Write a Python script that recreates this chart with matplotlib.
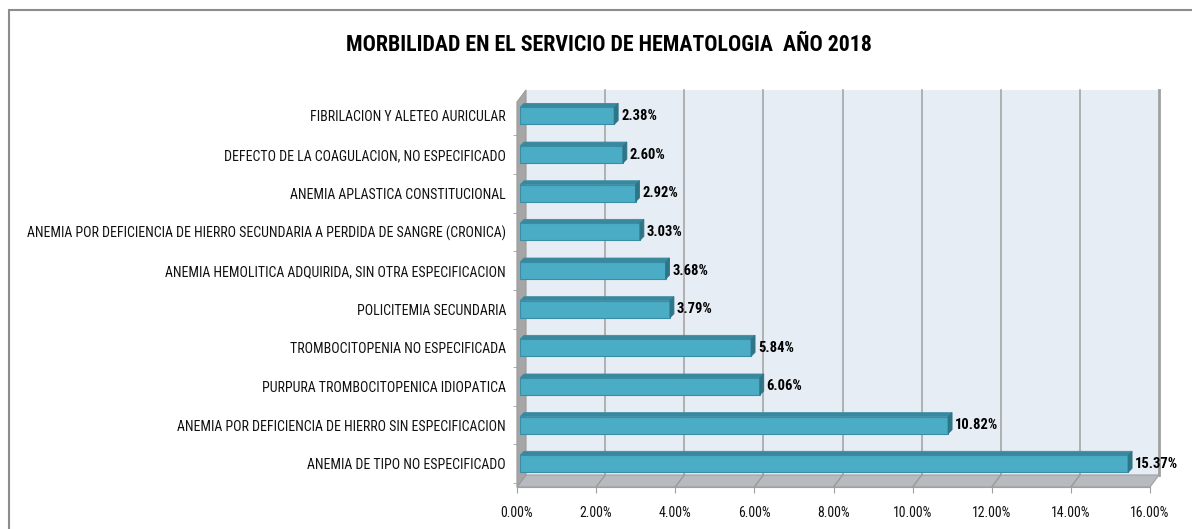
import matplotlib
matplotlib.use("Agg")
import matplotlib.pyplot as plt
from matplotlib import font_manager as fm
from matplotlib.patches import Rectangle, Polygon
from matplotlib.transforms import ScaledTranslation, IdentityTransform
import numpy as np

# ---- data (top to bottom as shown) ----
categories = [
    "FIBRILACION Y ALETEO AURICULAR",
    "DEFECTO DE LA COAGULACION, NO ESPECIFICADO",
    "ANEMIA APLASTICA CONSTITUCIONAL",
    "ANEMIA POR DEFICIENCIA DE HIERRO SECUNDARIA A PERDIDA DE SANGRE (CRONICA)",
    "ANEMIA HEMOLITICA ADQUIRIDA, SIN OTRA ESPECIFICACION",
    "POLICITEMIA SECUNDARIA",
    "TROMBOCITOPENIA NO ESPECIFICADA",
    "PURPURA TROMBOCITOPENICA IDIOPATICA",
    "ANEMIA POR DEFICIENCIA DE HIERRO SIN ESPECIFICACION",
    "ANEMIA DE TIPO NO ESPECIFICADO",
]
values = [2.38, 2.60, 2.92, 3.03, 3.68, 3.79, 5.84, 6.06, 10.82, 15.37]
xticks = [0, 2, 4, 6, 8, 10, 12, 14, 16]
xticklabels = ["%.2f%%" % t for t in xticks]
title = "MORBILIDAD EN EL SERVICIO DE HEMATOLOGIA  AÑO 2018"

# ---- pick a narrow font if one is installed ----
entries = fm.fontManager.ttflist
names = {f.name for f in entries}
family, stretch = "DejaVu Sans", "normal"
for cand in ("Liberation Sans Narrow", "Roboto Condensed", "Open Sans Condensed",
             "Arial Narrow", "Noto Sans Condensed"):
    if cand in names:
        family = cand
        break
else:
    if any(f.name == "DejaVu Sans" and ("Condensed" in f.fname) for f in entries):
        stretch = "condensed"
plt.rcParams["font.family"] = [family, "DejaVu Sans"]
plt.rcParams["font.stretch"] = stretch

W, H = 1192, 529
DPI = 100
fig = plt.figure(figsize=(W / DPI, H / DPI), dpi=DPI)
fig.patch.set_facecolor("white")
renderer = fig.canvas.get_renderer()


def fit(text, target_px, base, weight="normal"):
    t = fig.text(0, 0, text, fontsize=base, fontweight=weight)
    w = t.get_window_extent(renderer).width
    t.remove()
    return base * target_px / w


fs_lab = fit(max(categories, key=len), 479, 9)
fs_title = fit(title, 528, 15, "bold")
fs_val = fit("15.37%", 43, 9, "bold")
fs_x = fit("16.00%", 40, 9)

# outer chart border (extends past right/bottom edges)
fig.add_artist(Rectangle((9 / W, -0.1), 1.2, (H - 10) / H + 0.1,
                         transform=fig.transFigure, fill=False,
                         ec="#8C8C8C", lw=1.5))

# axes = front plane
L, R, T, B = 517, 1150, 102, 487
ax = fig.add_axes([L / W, (H - B) / H, (R - L) / W, (B - T) / H])
ax.set_facecolor("none")

n = len(categories)
ypos = np.arange(n)[::-1]  # first category at top

ax.set_yticks(ypos)
ax.set_yticklabels(categories, fontsize=fs_lab, color="#111111")
ax.tick_params(axis="y", length=0, pad=8)
ax.set_yticks(np.arange(-0.5, n, 1.0), minor=True)
ax.tick_params(axis="y", which="minor", length=3, color="#A0A0A0")
ax.set_xticks(xticks)
ax.set_xticklabels(xticklabels, fontsize=fs_x, color="#111111")
ax.tick_params(axis="x", length=4, color="#A0A0A0", pad=10)

y0, y1 = -0.6, 9.36
ax.set_xlim(0, 16)
ax.set_ylim(y0, y1)
ax.set_autoscale_on(False)

depth = ScaledTranslation(0.09, 0.12, fig.dpi_scale_trans)
back = ax.transData + depth
ident = IdentityTransform()

# back wall
ax.add_patch(Rectangle((0, y0), 16, y1 - y0, transform=back,
                       fc="#E7EDF5", ec="none", zorder=0, clip_on=False))
ax.plot([16, 16], [y0, y1], transform=back, color="#A0A0A0", lw=2,
        zorder=1, clip_on=False)


def disp(tr, x, y):
    return np.asarray(tr.transform((x, y)))


# floor
floor = [disp(ax.transData, 0, y0), disp(ax.transData, 16, y0),
         disp(back, 16, y0), disp(back, 0, y0)]
ax.add_patch(Polygon(floor, closed=True, transform=ident, fc="#B7BBBF",
                     ec="#A0A0A0", lw=0.8, zorder=1, clip_on=False))
# left wall
wall = [disp(ax.transData, 0, y0), disp(ax.transData, 0, y1),
        disp(back, 0, y1), disp(back, 0, y0)]
ax.add_patch(Polygon(wall, closed=True, transform=ident, fc="#A6A6A6",
                     ec="#9A9A9A", lw=0.8, zorder=1, clip_on=False))

# gridlines (back wall + floor diagonal)
for t in xticks[1:-1]:
    ax.plot([t, t], [y0, y1], transform=back, color="#A6A6A6", lw=1.2,
            zorder=1, clip_on=False)
    p0 = disp(back, t, y0)
    p1 = disp(ax.transData, t, y0)
    ax.plot([p0[0], p1[0]], [p0[1], p1[1]], transform=ident,
            color="#999999", lw=1.0, zorder=1.5, clip_on=False)

# bars (pseudo 3D)
h = 0.44
bar_t = ax.transData + ScaledTranslation(0.03, 0.0, fig.dpi_scale_trans)
d = np.array([4.0, 4.0])
front_c, top_c, end_c, edge_c = "#4BACC6", "#3A889D", "#2F7588", "#3A8DA4"
for yi, v in zip(ypos, values):
    ax.add_patch(Rectangle((0, yi - h / 2), v, h, transform=bar_t,
                           fc=front_c, ec=edge_c, lw=0.8, zorder=3,
                           clip_on=False))
    tl = disp(bar_t, 0, yi + h / 2)
    tr = disp(bar_t, v, yi + h / 2)
    br = disp(bar_t, v, yi - h / 2)
    ax.add_patch(Polygon([tl, tr, tr + d, tl + d], closed=True,
                         transform=ident, fc=top_c, ec=edge_c, lw=0.6,
                         zorder=3, clip_on=False))
    ax.add_patch(Polygon([br, tr, tr + d, br + d], closed=True,
                         transform=ident, fc=end_c, ec=end_c, lw=0.6,
                         zorder=3, clip_on=False))
    ax.annotate("%.2f%%" % v, xy=(v, yi), xytext=(10, 0),
                textcoords="offset pixels", va="center", ha="left",
                fontsize=fs_val, fontweight="bold", color="#000000",
                annotation_clip=False, zorder=4)

# axes styling
for s in ("top", "right"):
    ax.spines[s].set_visible(False)
ax.spines["left"].set_color("#A0A0A0")
ax.spines["bottom"].set_color("#A0A0A0")

fig.text(609 / W, 1 - 45 / H, title, ha="center", va="center",
         fontsize=fs_title, fontweight="bold", color="#000000")

fig.savefig("out.png", dpi=DPI, facecolor="white")
